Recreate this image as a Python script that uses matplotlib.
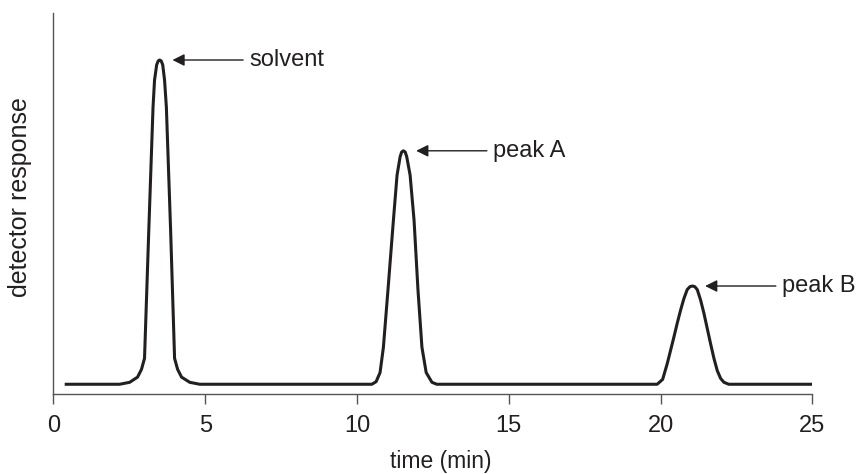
import matplotlib.pyplot as plt

plt.rcParams['font.family'] = ['Liberation Sans', 'DejaVu Sans']

# chromatogram trace (time in min, response in arbitrary units)
time = [0.42, 2.18, 2.51, 2.77, 2.90, 3.00, 3.14, 3.28, 3.33, 3.40, 3.45, 3.50,
        3.55, 3.60, 3.66, 3.72, 3.86, 3.99, 4.09, 4.22, 4.49, 4.82,
        10.49, 10.63, 10.76, 10.87, 11.02, 11.20, 11.32, 11.42, 11.47, 11.53,
        11.59, 11.64, 11.75, 11.88, 12.01, 12.14, 12.28, 12.47, 12.63,
        19.89, 20.07, 20.22, 20.44, 20.55, 20.66, 20.77, 20.88, 20.97, 21.05,
        21.13, 21.21, 21.32, 21.43, 21.54, 21.65, 21.76, 21.87, 21.98,
        22.09, 22.25, 25.0]
response = [0, 0, 0.6, 2.2, 4.6, 8.0, 47.4, 85.4, 93.8, 98.5, 99.7, 100,
            99.7, 98.5, 93.8, 85.4, 47.4, 8.0, 4.6, 2.2, 0.6, 0,
            0, 0.8, 3.6, 11.4, 29, 50.6, 64.5, 70.1, 71.6, 72.0,
            71.6, 70.1, 64.5, 50.6, 29, 11.4, 3.6, 0.6, 0,
            0, 1.5, 6.3, 14.5, 18.8, 22.8, 26.4, 29.2, 30.1, 30.3,
            30.1, 29.2, 26.0, 21.9, 17.2, 12.5, 8.0, 4.2, 1.8,
            0.6, 0, 0]

labels = ['solvent', 'peak A', 'peak B']
label_x = [3.5, 11.53, 21.05]
label_y = [100, 72.0, 30.3]

fig = plt.figure(figsize=(8.61, 4.74), dpi=100)
ax = fig.add_axes([0.0621, 0.1688, 0.9434 - 0.0621, 0.9726 - 0.1688])

ax.plot(time, response, color='#231f20', lw=2.2, solid_joinstyle='round')

for lab, lx, ly in zip(labels, label_x, label_y):
    ax.annotate('', xy=(lx + 0.42, ly), xytext=(lx + 2.75, ly),
                arrowprops=dict(arrowstyle='-|>', color='#231f20', lw=1,
                                mutation_scale=18, shrinkA=0, shrinkB=0))
    ax.text(lx + 2.95, ly, lab, fontsize=17, color='#231f20',
            va='center', ha='left')

ax.set_xlim(0, 25)
ax.set_ylim(-3.0, 114.5)
ax.set_xticks([0, 5, 10, 15, 20, 25])
ax.set_yticks([])
for s in ['top', 'right']:
    ax.spines[s].set_visible(False)
for s in ['left', 'bottom']:
    ax.spines[s].set_color('#555555')
    ax.spines[s].set_linewidth(1)
ax.tick_params(axis='x', length=7, width=1, color='#555555',
               labelsize=17, labelcolor='#231f20', pad=8)
ax.set_xlabel('time (min)', fontsize=16.5, color='#231f20', va='center')
ax.set_ylabel('detector response', fontsize=18, color='#231f20', va='center')
ax.xaxis.set_label_coords(0.511, -0.176)
ax.yaxis.set_label_coords(-0.044, 0.517)

fig.savefig('out.png', dpi=100)
